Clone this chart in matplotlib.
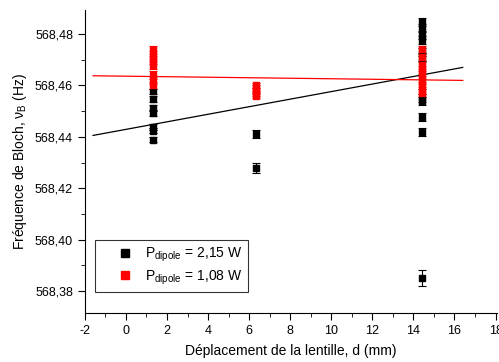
import numpy as np
import matplotlib.pyplot as plt
from matplotlib.lines import Line2D
from matplotlib.ticker import FuncFormatter, MultipleLocator

plt.rcParams['font.family'] = ['Liberation Sans', 'DejaVu Sans']
plt.rcParams['mathtext.fontset'] = 'custom'
plt.rcParams['mathtext.rm'] = 'Liberation Sans'
plt.rcParams['mathtext.it'] = 'Liberation Sans'

# P dipole = 2,15 W (noir)
x_noir = [1.3] * 7 + [6.35] * 2 + [14.4] * 11
y_noir = [568.4388, 568.4423, 568.4438, 568.4493, 568.4512, 568.4547, 568.4578,
          568.441, 568.428,
          568.4847, 568.4823, 568.4796, 568.4777, 568.473, 568.4707,
          568.455, 568.454, 568.4477, 568.4419, 568.385]
err_noir = [0.001] * 7 + [0.0015, 0.002] + [0.0015] * 10 + [0.003]

# P dipole = 1,08 W (rouge)
x_rouge = [1.3] * 7 + [6.35] * 5 + [14.4] * 9
y_rouge = [568.4738, 568.4718, 568.4699, 568.468, 568.464, 568.462, 568.460,
           568.460, 568.459, 568.458, 568.457, 568.456,
           568.474, 568.471, 568.468, 568.466, 568.464, 568.462, 568.460, 568.458, 568.457]
err_rouge = [0.0015] * 7 + [0.001] * 5 + [0.0015] * 9

# ajustements lineaires
fit_noir = (0.00147, 568.4429)
fit_rouge = (-0.0001, 568.4636)
x_fit = np.array([-1.6, 16.4])

labels = [r'P$_{\mathregular{dipole}}$ = 2,15 W', r'P$_{\mathregular{dipole}}$ = 1,08 W']

fig = plt.figure(figsize=(4.99, 3.62), dpi=100)
ax = fig.add_axes([0.170, 0.135, 0.826, 0.837])

ax.errorbar(x_noir, y_noir, yerr=err_noir, fmt='s', color='black', ms=5,
            capsize=3, elinewidth=0.8, capthick=0.8)
ax.errorbar(x_rouge, y_rouge, yerr=err_rouge, fmt='s', color='red', ms=5,
            capsize=3, elinewidth=0.8, capthick=0.8)

ax.plot(x_fit, fit_noir[0] * x_fit + fit_noir[1], color='black', lw=0.9)
ax.plot(x_fit, fit_rouge[0] * x_fit + fit_rouge[1], color='red', lw=0.9)

ax.set_xlim(-2, 18.07)
ax.set_ylim(568.3714, 568.4893)
ax.xaxis.set_major_locator(MultipleLocator(2))
ax.xaxis.set_minor_locator(MultipleLocator(1))
ax.yaxis.set_major_locator(MultipleLocator(0.02))
ax.yaxis.set_minor_locator(MultipleLocator(0.01))
ax.yaxis.set_major_formatter(FuncFormatter(lambda v, p: f'{v:.2f}'.replace('.', ',')))
ax.xaxis.set_major_formatter(FuncFormatter(lambda v, p: f'{v:.0f}'))

ax.spines['top'].set_visible(False)
ax.spines['right'].set_visible(False)
ax.tick_params(which='major', length=5, labelsize=9, direction='out')
ax.tick_params(which='minor', length=3, direction='out')
ax.tick_params(axis='x', pad=3.5)

ax.set_xlabel('Déplacement de la lentille, d (mm)', fontsize=10, labelpad=5)
ax.set_ylabel(r'Fréquence de Bloch, ν$_{\mathregular{B}}$ (Hz)', fontsize=10)

handles = [Line2D([], [], ls='none', marker='s', ms=6, color='black'),
           Line2D([], [], ls='none', marker='s', ms=6, color='red')]
leg = ax.legend(handles, labels, loc='lower left', bbox_to_anchor=(0.024, 0.069),
                fontsize=10, frameon=True, fancybox=False, edgecolor='black',
                handlelength=3.6, handletextpad=-0.4, borderpad=0.4,
                labelspacing=0.3, borderaxespad=0)
leg.get_frame().set_linewidth(0.8)

fig.savefig('out.png', dpi=100)
